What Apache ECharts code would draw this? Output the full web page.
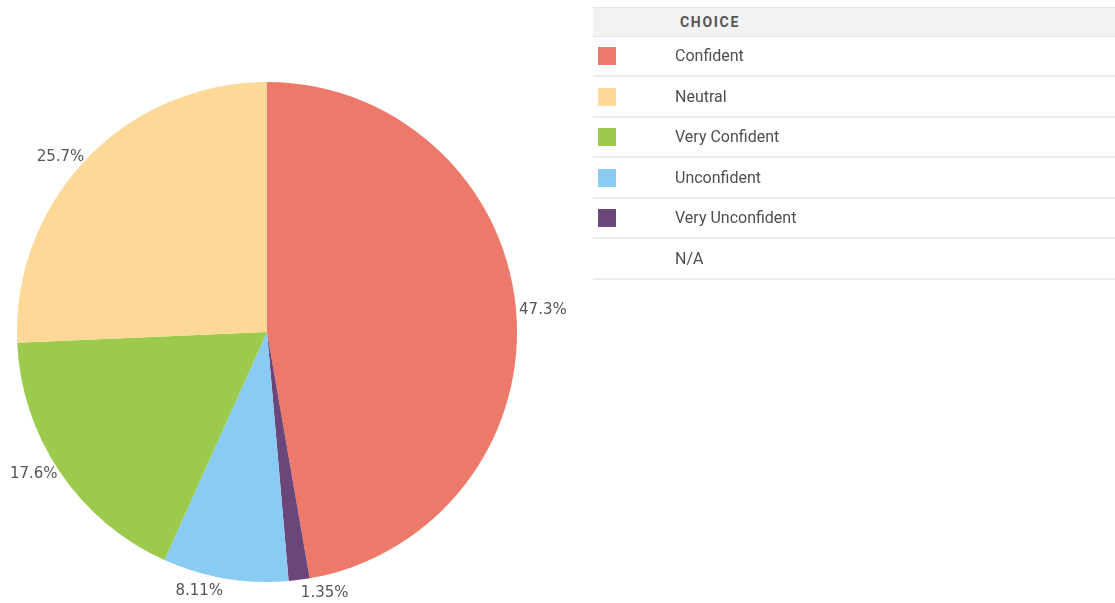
<!DOCTYPE html>
<html>
<head>
<meta charset="utf-8">
<script src="https://cdn.jsdelivr.net/npm/echarts@6/dist/echarts.min.js"></script>
<style>
  html, body { margin: 0; padding: 0; background: #fff; }
  #wrap { position: relative; width: 1115px; height: 603px; overflow: hidden; }
  #chart { position: absolute; left: 0; top: 0; width: 1115px; height: 603px; }
  #legend { position: absolute; left: 593px; top: 0; width: 522px; height: 300px;
            font-family: Roboto, "Noto Sans", sans-serif; }
  .head { position: absolute; left: 0; top: 7px; width: 522px; height: 28px; background: #f2f2f2;
          border-top: 1px solid #e4e4e4; border-bottom: 1px solid #e4e4e4; }
  .head span { position: absolute; left: 87px; top: 0; line-height: 28px; font-size: 14px; font-weight: bold;
               letter-spacing: 1.7px; color: #555; }
  .row { position: absolute; left: 0; width: 522px; height: 40px; border-bottom: 2px solid #ececec; box-sizing: border-box; }
  .row .sw { position: absolute; left: 5px; top: 10px; width: 18px; height: 18px; }
  .row .tx { position: absolute; left: 82px; top: 0; line-height: 38px; font-size: 16px; color: #4f4f4f; }
</style>
</head>
<body>
<div id="wrap">
  <div id="chart"></div>
  <div id="legend"><div class="head"><span>CHOICE</span></div></div>
</div>
<script>
// Legend table order
const choices = ['Confident', 'Neutral', 'Very Confident', 'Unconfident', 'Very Unconfident', 'N/A'];
const choiceColors = ['#EC796A', '#FDD896', '#9CCA4D', '#89CBF3', '#6A467A', null];

// Pie slices, clockwise from 12 o'clock (percent of responses)
const sliceNames = ['Confident', 'Very Unconfident', 'Unconfident', 'Very Confident', 'Neutral'];
const slicePercents = [47.3, 1.35, 8.11, 17.6, 25.7];

const colorOf = name => choiceColors[choices.indexOf(name)];

// Build legend rows
const legend = document.getElementById('legend');
choices.forEach((c, i) => {
  const row = document.createElement('div');
  row.className = 'row';
  row.style.top = (37 + i * 40.5) + 'px';
  if (choiceColors[i]) {
    const s = document.createElement('div');
    s.className = 'sw';
    s.style.background = choiceColors[i];
    row.appendChild(s);
  }
  const tx = document.createElement('div');
  tx.className = 'tx';
  tx.textContent = c;
  row.appendChild(tx);
  legend.appendChild(row);
});

// Labels near the bottom sit a little further from the rim
const bottomLabels = { 'Very Unconfident': 13, 'Unconfident': 13 };

const chart = echarts.init(document.getElementById('chart'), null, { renderer: 'canvas' });
chart.setOption({
  animation: false,
  series: [{
    type: 'pie',
    center: [267, 332],
    radius: [0, 250],
    startAngle: 90,
    clockwise: true,
    avoidLabelOverlap: false,
    data: sliceNames.map((n, i) => ({
      name: n,
      value: slicePercents[i],
      itemStyle: { color: colorOf(n) },
      labelLine: { length: bottomLabels[n] || 3, length2: 0 }
    })),
    label: {
      show: true,
      position: 'outside',
      formatter: p => p.value + '%',
      fontFamily: 'Verdana, "DejaVu Sans", sans-serif',
      fontSize: 15,
      color: '#555',
      distanceToLabelLine: 0
    },
    labelLine: { show: false, length: 3, length2: 0 },
    emphasis: { disabled: true }
  }]
});
</script>
</body>
</html>
